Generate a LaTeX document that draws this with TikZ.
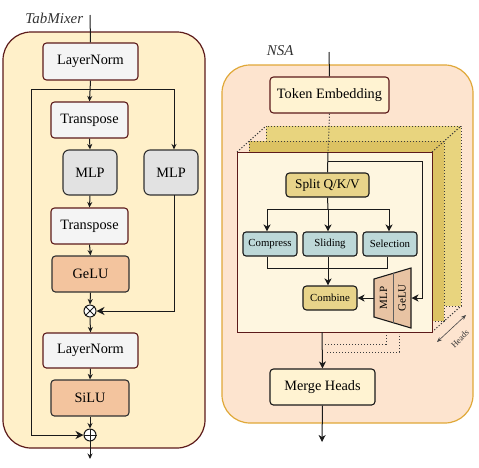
\documentclass[tikz,border=0pt]{standalone}
\usepackage{fontspec}
\setmainfont{Liberation Serif}
\usetikzlibrary{arrows.meta,shapes.geometric}
\definecolor{brownB}{HTML}{5C1A1A}
\definecolor{creamL}{HTML}{FFF0C9}
\definecolor{grayF}{HTML}{F4F4F4}
\definecolor{mlpF}{HTML}{E2E2E2}
\definecolor{peachF}{HTML}{F3C49E}
\definecolor{panelR}{HTML}{FDE4CF}
\definecolor{goldB}{HTML}{E0A838}
\definecolor{teF}{HTML}{FFF3D2}
\definecolor{frontF}{HTML}{FEF6E0}
\definecolor{goldD}{HTML}{DCC263}
\definecolor{goldL}{HTML}{E8D47E}
\definecolor{splitF}{HTML}{E8D48A}
\definecolor{tealF}{HTML}{BDD8D8}
\definecolor{trapF}{HTML}{E8C3A3}
\definecolor{lineC}{HTML}{1A1A1A}
\definecolor{labelC}{HTML}{333333}
\begin{document}
\begin{tikzpicture}[x=1pt,y=-1pt,
  line width=1pt, draw=lineC,
  box/.style={draw, rounded corners=3.5pt, line width=1.1pt, inner sep=0pt, font=\fontsize{14.3}{16}\selectfont},
  lbox/.style={box, draw=brownB, fill=grayF},
  mbox/.style={box, draw=lineC!90, fill=mlpF},
  abox/.style={box, draw=lineC!90, fill=peachF},
  sbox/.style={box, draw=lineC, fill=tealF, font=\fontsize{10.8}{12}\selectfont, rounded corners=3pt},
  gbox/.style={box, draw=lineC, fill=splitF},
  arr/.style={-{Stealth[length=5.5pt,width=5pt]}},
  barr/.style={-{Stealth[length=8pt,width=8pt,inset=2.5pt]}},
  rarr/.style={-{Stealth[length=7pt,width=7pt,inset=2pt]}},
  dotl/.style={dash pattern=on 1.2pt off 1.8pt, line width=1pt, draw=lineC!85},
  opnode/.style={circle, draw, fill=white, minimum size=12pt, inner sep=0pt, line width=1pt},
  lbl/.style={font=\fontsize{15}{17}\selectfont\itshape, text=labelC}
]
\useasboundingbox (0,0) rectangle (479,467);

% ---------------- Left panel: TabMixer
\path[draw=brownB, fill=creamL, line width=1.2pt, rounded corners=28pt] (3,32) rectangle (205,448);
\node[lbl, anchor=east] (tmlabel) at (87,18) {TabMixer};

\node[lbox, minimum width=95pt, minimum height=37pt] (ln1) at (90.5,61.5) {LayerNorm};
\node[lbox, minimum width=77pt, minimum height=36pt] (tr1) at (89.5,120) {Transpose};
\node[mbox, minimum width=54pt, minimum height=45pt, rounded corners=6pt] (mlp1) at (90,172.5) {MLP};
\node[mbox, minimum width=54pt, minimum height=45pt, rounded corners=6pt] (mlp2) at (171,172.5) {MLP};
\node[lbox, minimum width=77pt, minimum height=36pt] (tr2) at (89.5,226) {Transpose};
\node[abox, minimum width=77pt, minimum height=36pt] (gelu) at (90.5,274) {GeLU};
\node[opnode] (mul) at (90,311) {};
\draw[line width=0.9pt] (mul.north west) -- (mul.south east) (mul.north east) -- (mul.south west);
\node[lbox, minimum width=95pt, minimum height=35pt] (ln2) at (90.5,350.5) {LayerNorm};
\node[abox, minimum width=78pt, minimum height=36pt] (silu) at (90,398) {SiLU};
\node[opnode] (plus) at (90,435) {};
\draw[line width=0.9pt] (plus.north) -- (plus.south) (plus.west) -- (plus.east);

\coordinate (inL) at (90,15);
\coordinate (outL) at (90,459);
\coordinate (jl) at (31,89);
\coordinate (jr) at (174,89);
\coordinate (m2b) at (174,195);
\coordinate (m2c) at (174,311);
\coordinate (lc) at (31,435);

\draw (inL) -- (ln1.north);
\draw[arr] (ln1.south) -- (tr1.north);
\draw (jl) -- (jr);
\draw[arr] (jr) -- (m2b |- mlp2.north);
\draw[arr] (tr1.south) -- (mlp1.north);
\draw[arr] (mlp1.south) -- (tr2.north);
\draw[arr] (tr2.south) -- (gelu.north);
\draw[arr] (gelu.south) -- (mul.north);
\draw[barr] (m2b) -- (m2c) -- (mul.east);
\draw[arr] (mul.south) -- (ln2.north);
\draw[arr] (ln2.south) -- (silu.north);
\draw[arr] (silu.south) -- (plus.north);
\draw[barr] (jl) -- (lc) -- (plus.west);
\draw[arr] (plus.south) -- (outL);

% ---------------- Right panel: NSA
\path[draw=goldB, fill=panelR, line width=1.2pt, rounded corners=28pt] (222,65) rectangle (473,423);
\node[lbl, anchor=west] (nsalabel) at (263,51) {NSA};

\node[box, draw=brownB, fill=teF, minimum width=119pt, minimum height=36pt] (te) at (329.5,95) {Token Embedding};

% stacked heads
\path[fill=goldL, dotl] (266,126) rectangle (461,306);
\path[fill=goldD, dotl] (249,141) rectangle (444,321);
\draw[dotl] (237,152) -- (266,126);
\draw[dotl] (432,152) -- (461,126);
\draw[dotl] (432,332) -- (461,306);
\node[draw=brownB, fill=frontF, line width=0.8pt, minimum width=195pt, minimum height=180pt, inner sep=0pt] (front) at (334.5,242) {};

\coordinate (inR) at (329,52);
\coordinate (ftop) at (328,152);
\coordinate (fbr) at (328,161);
\coordinate (rr1) at (422,161);
\coordinate (rr2) at (422,298);

\node[gbox, minimum width=83pt, minimum height=24pt, font=\fontsize{13.3}{15}\selectfont] (split) at (327.5,185) {Split Q/K/V};
\node[sbox, minimum width=54pt, minimum height=24pt] (comp) at (270,244) {Compress};
\node[sbox, minimum width=54pt, minimum height=24pt] (slid) at (330,244) {Sliding};
\node[sbox, minimum width=54pt, minimum height=24pt] (sel) at (390,244) {Selection};
\node[gbox, minimum width=54pt, minimum height=24pt, font=\fontsize{10.8}{12}\selectfont] (comb) at (330,298) {Combine};

% trapezoid MLP / GeLU
\path[draw=lineC, fill=trapF, line width=1.1pt] (374,279) -- (411,268) -- (411,328) -- (374,317) -- cycle;
\draw[line width=0.8pt, draw=lineC!70] (393,273.4) -- (393,322.6);
\node[rotate=90, font=\fontsize{11}{12}\selectfont] (tmlp) at (383.5,298) {MLP};
\node[rotate=90, font=\fontsize{11}{12}\selectfont] (tgelu) at (402,298) {GeLU};
\coordinate (trapL) at (374,298);
\coordinate (trapR) at (411.5,298);

\coordinate (sb) at (328,209);
\coordinate (sbl) at (267,209);
\coordinate (sbr) at (389,209);
\coordinate (cb1) at (267,268);
\coordinate (cb2) at (387,268);

\draw (inR) -- (te.north);
\draw[dotl] (te.south) -- (ftop);
\draw (ftop) -- (split.north);
\draw[rarr] (fbr) -- (rr1) -- (rr2) -- (trapR);
\draw (split.south) -- (sb);
\draw (sbl) -- (sbr);
\draw[rarr] (sbl) -- (sbl |- comp.north);
\draw[rarr] (sb) -- (sb |- slid.north);
\draw[rarr] (sbr) -- (sbr |- sel.north);
\draw (cb1 |- comp.south) -- (cb1) -- (cb2) -- (cb2 |- sel.south);
\draw[rarr] (sb |- slid.south) -- (sb |- comb.north);
\draw[rarr] (trapL) -- (comb.east);

% hidden head outputs
\draw[dotl] (325,344) -- (386,344) -- (386,334);
\draw[dotl] (327,352) -- (399,352) -- (399,334);

\node[box, draw=lineC, fill=teF, minimum width=105pt, minimum height=36pt] (mh) at (322.5,387) {Merge Heads};
\coordinate (fb) at (322,332);
\coordinate (outR) at (322,442);
\draw[rarr] (fb) -- (mh.north);
\draw[rarr] (mh.south) -- (outR);

% heads arrow
\coordinate (ha) at (437,342);
\coordinate (hb) at (466,315);
\draw[{Stealth[length=5pt,width=4pt]}-{Stealth[length=5pt,width=4pt]}, line width=0.6pt, draw=lineC!80] (ha) -- (hb);
\node[rotate=45, font=\fontsize{8.5}{9}\selectfont, text=labelC, inner sep=0pt] (headsl) at (460,339) {Heads};
\end{tikzpicture}
\end{document}
